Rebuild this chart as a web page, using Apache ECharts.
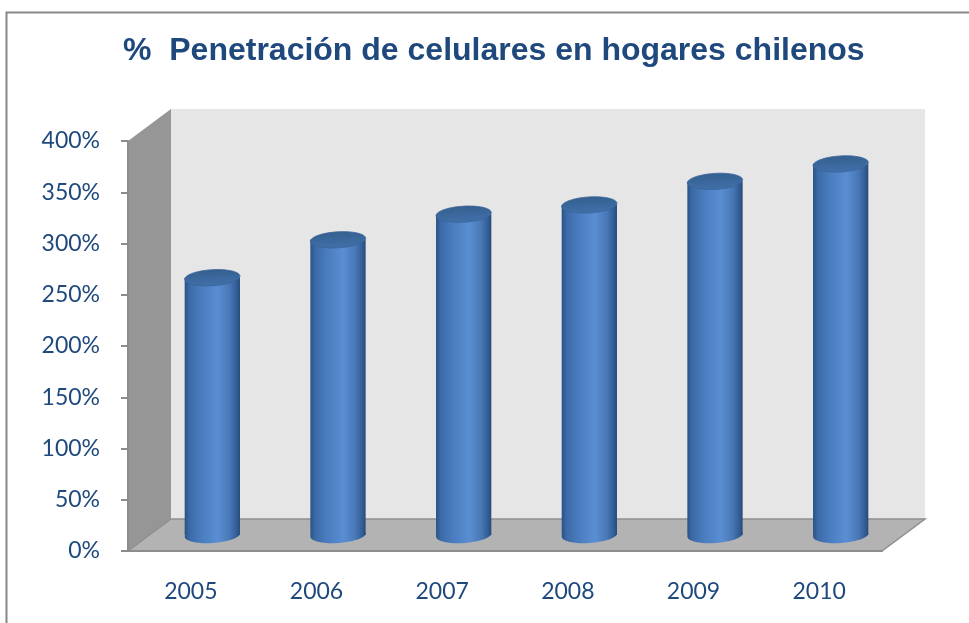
<!DOCTYPE html>
<html>
<head>
<meta charset="utf-8">
<script src="https://cdn.jsdelivr.net/npm/echarts@6/dist/echarts.min.js"></script>
<style>
  html, body { margin: 0; padding: 0; background: #fff; }
  #chart { width: 969px; height: 623px; }
</style>
</head>
<body>
<div id="chart"></div>
<script>
// data
const years = ['2005', '2006', '2007', '2008', '2009', '2010'];
const penetration = [251, 288, 313, 322, 345, 362];
const yMax = 400;
const yStep = 50;

// 3d depth offset of the box (px)
const DX = 43;
const DY = -32;
const textBlue = '#1F497D';
const axisGray = '#8C8C8C';

function renderBox(params) {
  const cs = params.coordSys;
  const x0 = cs.x, y0 = cs.y, w = cs.width, h = cs.height;
  const xb = x0 + w, yb = y0 + h;
  return {
    type: 'group',
    children: [
      {
        type: 'rect',
        shape: {x: x0 + DX, y: y0 + DY, width: w, height: h},
        style: {fill: '#E6E6E6'},
      },
      {
        type: 'polygon',
        shape: {points: [[x0, y0], [x0 + DX, y0 + DY], [x0 + DX, yb + DY], [x0, yb]]},
        style: {fill: '#969696'},
      },
      {
        type: 'polygon',
        shape: {points: [[x0, yb], [xb, yb], [xb + DX, yb + DY], [x0 + DX, yb + DY]]},
        style: {fill: '#B3B3B3', stroke: '#909090', lineWidth: 1.5},
      },
    ],
  };
}

function renderCylinder(params, api) {
  const i = api.value(0);
  const v = api.value(1);
  const base = api.coord([i, 0]);
  const top = api.coord([i, v]);
  const bw = api.size([1, 0])[0] * 0.44;
  const rx = bw / 2;
  const ry = 8;
  const cx = base[0] + DX / 2;
  const yT = top[1] + DY / 2;
  const yB = base[1] + DY / 2;

  const body = new echarts.graphic.LinearGradient(0, 0, 1, 0, [
    {offset: 0, color: '#2A5184'},
    {offset: 0.08, color: '#3A69A6'},
    {offset: 0.3, color: '#4A7DBF'},
    {offset: 0.6, color: '#5A8ED2'},
    {offset: 0.82, color: '#4877B5'},
    {offset: 0.94, color: '#325D96'},
    {offset: 1, color: '#274A78'},
  ]);
  const cap = new echarts.graphic.LinearGradient(0, 0, 0, 1, [
    {offset: 0, color: '#34608F'},
    {offset: 1, color: '#4170AA'},
  ]);

  return {
    type: 'group',
    children: [
      {
        type: 'ellipse',
        shape: {cx: cx, cy: yB, rx: rx, ry: ry},
        rotation: 0.06,
        originX: cx,
        originY: yB,
        style: {fill: body},
      },
      {
        type: 'rect',
        shape: {x: cx - rx, y: yT, width: bw, height: yB - yT},
        style: {fill: body},
      },
      {
        type: 'ellipse',
        shape: {cx: cx, cy: yT, rx: rx, ry: ry},
        rotation: 0.06,
        originX: cx,
        originY: yT,
        style: {fill: cap, stroke: '#3A6399', lineWidth: 0.8},
      },
    ],
  };
}

const chart = echarts.init(document.getElementById('chart'));

chart.setOption({
  animation: false,
  backgroundColor: '#ffffff',
  title: {
    text: '%  Penetración de celulares en hogares chilenos',
    left: 123,
    top: 35,
    padding: 0,
    textStyle: {
      fontFamily: '"Liberation Sans", Arial, sans-serif',
      fontSize: 32,
      fontWeight: 'bold',
      color: textBlue,
    },
  },
  graphic: [
    {
      type: 'rect',
      left: 4,
      top: 10,
      shape: {width: 1200, height: 900},
      style: {fill: null, stroke: '#878787', lineWidth: 2},
      silent: true,
    },
  ],
  grid: {left: 128, right: 87, top: 141, bottom: 72},
  xAxis: {
    type: 'category',
    data: years,
    boundaryGap: true,
    axisLine: {lineStyle: {color: axisGray, width: 2}},
    axisTick: {length: 7, lineStyle: {color: axisGray, width: 2}},
    axisLabel: {
      margin: 29,
      fontFamily: 'Lato',
      fontSize: 23,
      color: textBlue,
    },
    z: 3,
  },
  yAxis: {
    type: 'value',
    min: 0,
    max: yMax,
    interval: yStep,
    splitLine: {show: false},
    axisLine: {show: true, lineStyle: {color: axisGray, width: 2}},
    axisTick: {show: true, length: 7, lineStyle: {color: axisGray, width: 2}},
    axisLabel: {
      margin: 28,
      fontFamily: 'Lato',
      fontSize: 23,
      color: textBlue,
      formatter: (v) => v + '%',
    },
    z: 3,
  },
  series: [
    {
      type: 'custom',
      name: 'box',
      silent: true,
      z: 0,
      renderItem: renderBox,
      data: [[0, 0]],
    },
    {
      type: 'custom',
      name: 'penetración',
      z: 2,
      renderItem: renderCylinder,
      encode: {x: 0, y: 1},
      data: years.map((y, i) => [i, penetration[i]]),
    },
  ],
});
</script>
</body>
</html>
